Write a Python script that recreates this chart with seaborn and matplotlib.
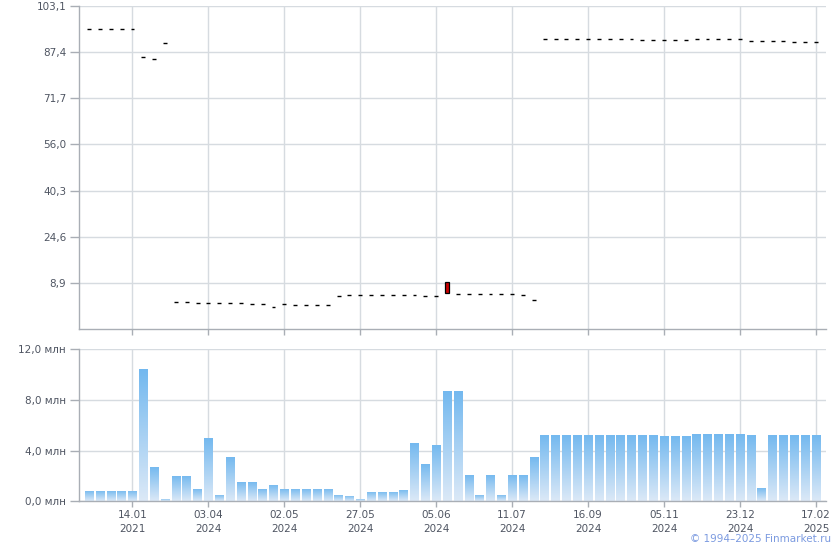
import numpy as np
import pandas as pd
import seaborn as sns
import matplotlib.pyplot as plt
from matplotlib.colors import LinearSegmentedColormap

# ================================ data ========================
price_open = [95.2, 95.2, 95.2, 95.2, 95.2, 85.9, 85.2, 90.6,
              2.3, 2.2, 2.0, 2.0, 2.0, 2.1, 2.0, 1.8, 1.6, 0.7, 1.6, 1.4, 1.4, 1.4, 1.4,
              4.5, 4.7, 4.8, 4.7, 4.7, 4.7, 4.7, 4.6, 4.5, 4.5, 9.1,
              5.0, 5.0, 5.0, 5.0, 5.0, 5.0, 4.7, 3.2,
              91.8, 91.8, 91.8, 91.8, 91.8, 91.8, 91.8, 91.8, 91.8,
              91.5, 91.5, 91.5, 91.5, 91.5,
              91.8, 91.8, 91.8, 91.8, 91.8,
              91.2, 91.2, 91.2, 91.2, 90.8, 90.8, 90.8]
price_close = [95.2, 95.2, 95.2, 95.2, 95.2, 85.9, 85.2, 90.6,
               2.3, 2.2, 2.0, 2.0, 2.0, 2.1, 2.0, 1.8, 1.6, 0.7, 1.6, 1.4, 1.4, 1.4, 1.4,
               4.5, 4.7, 4.8, 4.7, 4.7, 4.7, 4.7, 4.6, 4.5, 4.5, 5.4,
               5.0, 5.0, 5.0, 5.0, 5.0, 5.0, 4.7, 3.2,
               91.8, 91.8, 91.8, 91.8, 91.8, 91.8, 91.8, 91.8, 91.8,
               91.5, 91.5, 91.5, 91.5, 91.5,
               91.8, 91.8, 91.8, 91.8, 91.8,
               91.2, 91.2, 91.2, 91.2, 90.8, 90.8, 90.8]
volume = [0.8, 0.8, 0.8, 0.8, 0.8, 10.4, 2.7, 0.18, 2.0, 2.0, 1.0, 5.0, 0.5, 3.5,
          1.5, 1.5, 1.0, 1.3, 1.0, 1.0, 1.0, 1.0, 1.0, 0.5, 0.42, 0.18, 0.75, 0.75,
          0.75, 0.9, 4.6, 2.95, 4.45, 8.7, 8.7, 2.1, 0.5, 2.1, 0.5, 2.1, 2.1, 3.5,
          5.2, 5.2, 5.2, 5.2, 5.2, 5.2, 5.2, 5.2, 5.2, 5.2, 5.2,
          5.12, 5.12, 5.12,
          5.28, 5.28, 5.28, 5.28, 5.28,
          5.2, 1.05, 5.2, 5.2, 5.2, 5.2, 5.2]

tick_idx = [4, 11, 18, 25, 32, 39, 46, 53, 60, 67]
tick_labels = ["14.01\n2021", "03.04\n2024", "02.05\n2024", "27.05\n2024", "05.06\n2024",
               "11.07\n2024", "16.09\n2024", "05.11\n2024", "23.12\n2024", "17.02\n2025"]

price_ticks = [8.9, 24.6, 40.3, 56.0, 71.7, 87.4, 103.1]
price_tick_labels = ["8,9", "24,6", "40,3", "56,0", "71,7", "87,4", "103,1"]
vol_ticks = [0, 4, 8, 12]
vol_tick_labels = ["0,0 млн", "4,0 млн", "8,0 млн", "12,0 млн"]

df = pd.DataFrame({"idx": range(len(volume)), "open": price_open,
                   "close": price_close, "volume": volume})

# ================================ plot ========================
sns.set_style("white")
plt.rcParams['font.family'] = ['DejaVu Sans']

txt = "#4f5562"
grid = "#d6dbe0"
spine = "#a9aeb5"

fig = plt.figure(figsize=(8.4, 5.5), dpi=100)
ax1 = fig.add_axes([0.0944, 0.402, 0.8886, 0.587])
ax2 = fig.add_axes([0.0944, 0.0885, 0.8886, 0.277])

xlim = (-0.9, 67.9)

# price: flat candles drawn as short dashes, real bodies as boxes
flat = df[df["open"] == df["close"]]
ax1.hlines(flat["close"], flat["idx"] - 0.18, flat["idx"] + 0.18, color="black", lw=1.0, zorder=3)
body = df[df["open"] != df["close"]]
ax1.bar(body["idx"], body["open"] - body["close"], bottom=body["close"], width=0.3,
        color="#cc0000", edgecolor="black", linewidth=0.9, zorder=3)

ax1.set_xlim(*xlim)
ax1.set_ylim(-6.8, 103.1)
ax1.set_yticks(price_ticks)
ax1.set_yticklabels(price_tick_labels)
ax1.set_xticks(tick_idx)
ax1.set_xticklabels([])

# volume bars
sns.barplot(data=df, x="idx", y="volume", ax=ax2, color="#8cc3f0", width=0.78,
            saturation=1, zorder=2)
cmap = LinearSegmentedColormap.from_list("vol", ["#dce9f7", "#72b8ef"])
grad = np.linspace(0, 1, 256).reshape(-1, 1)
for p in ax2.patches:
    x0, y0 = p.get_x(), p.get_y()
    w, h = p.get_width(), p.get_height()
    if h <= 0:
        continue
    im = ax2.imshow(grad, cmap=cmap, aspect="auto", origin="lower",
                    extent=[x0, x0 + w, y0, y0 + h], zorder=2)
    im.set_clip_path(p)
    p.set_facecolor("none")
    p.set_edgecolor("none")

ax2.set_xlim(*xlim)
ax2.set_ylim(0, 12)
ax2.set_yticks(vol_ticks)
ax2.set_yticklabels(vol_tick_labels)
ax2.set_xticks(tick_idx)
ax2.set_xticklabels(tick_labels, linespacing=1.5)
ax2.set_xlabel("")
ax2.set_ylabel("")

for ax in (ax1, ax2):
    ax.grid(True, color=grid, lw=1.0, zorder=0)
    ax.set_axisbelow(True)
    for s in ("top", "right"):
        ax.spines[s].set_visible(False)
    for s in ("left", "bottom"):
        ax.spines[s].set_color(spine)
        ax.spines[s].set_linewidth(1.0)
    ax.tick_params(axis="y", length=6.5, width=1.0, color=spine, labelcolor=txt,
                   labelsize=7.5, pad=3, left=True)
    ax.tick_params(axis="x", length=4, width=1.0, color=spine, labelcolor=txt,
                   labelsize=7.5, pad=2, bottom=True)

fig.text(0.99, 0.0115, "© 1994–2025 Finmarket.ru", ha="right", va="bottom",
         color="#7b9ae0", fontsize=7.5)

plt.savefig("out.png", dpi=100)
